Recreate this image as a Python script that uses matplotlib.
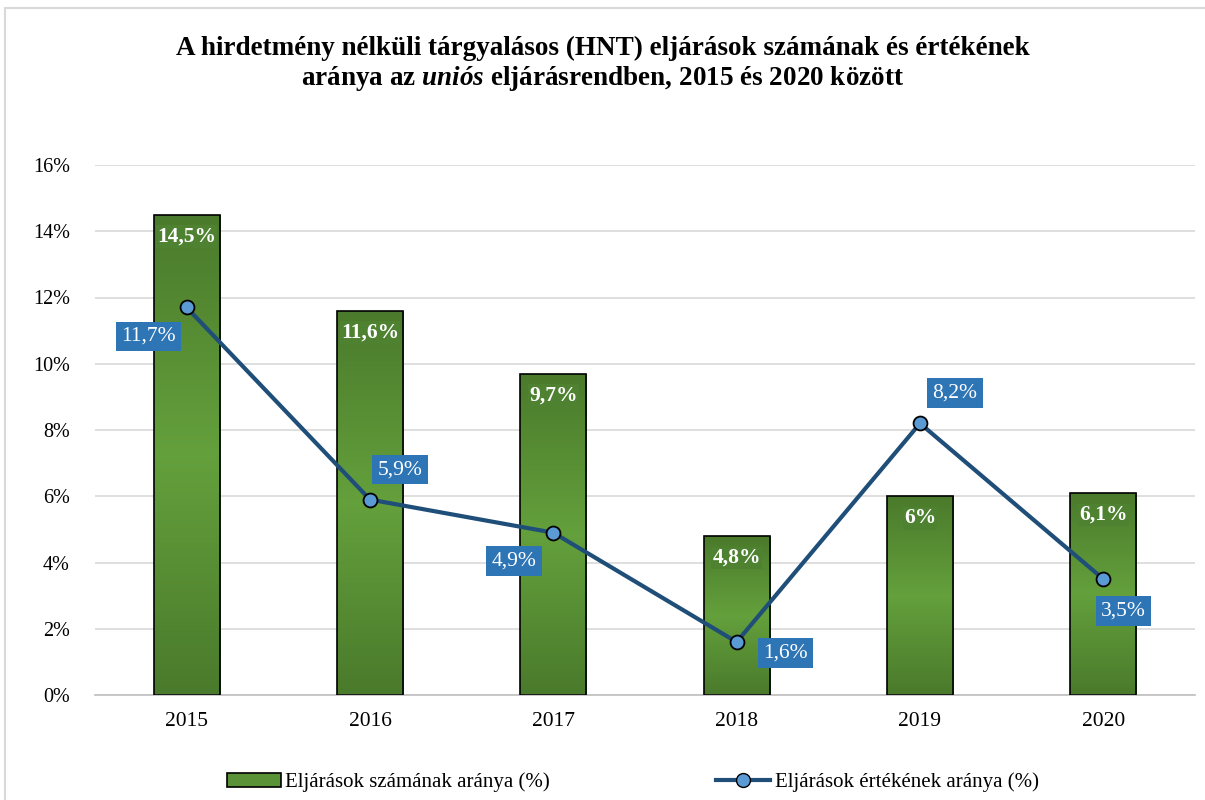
import numpy as np
import matplotlib.pyplot as plt
from matplotlib.patches import Rectangle
from matplotlib.lines import Line2D
from matplotlib.colors import LinearSegmentedColormap

plt.rcParams['font.family'] = ['Liberation Serif', 'DejaVu Serif']
plt.rcParams['mathtext.fontset'] = 'custom'
plt.rcParams['mathtext.it'] = 'Liberation Serif:italic:bold'
plt.rcParams['mathtext.rm'] = 'Liberation Serif:bold'

years = ["2015", "2016", "2017", "2018", "2019", "2020"]
count_share = [14.5, 11.6, 9.7, 4.8, 6.0, 6.1]
value_share = [11.7, 5.9, 4.9, 1.6, 8.2, 3.5]
count_labels = ["14,5%", "11,6%", "9,7%", "4,8%", "6%", "6,1%"]
value_labels = ["11,7%", "5,9%", "4,9%", "1,6%", "8,2%", "3,5%"]
# label offsets (pixels) for the line labels
value_offsets = [(-38, -29), (30, 30), (-39, -28), (49, -11), (35, 30), (20, -32)]

fig = plt.figure(figsize=(12.05, 8), dpi=100)
ax = fig.add_axes([0.0788, 0.13125, 0.9129, 0.6625])

# chart border
fig.patches.append(Rectangle((5 / 1205, -0.01), 1.0, 1 - 8 / 800 + 0.01, transform=fig.transFigure,
                             fill=False, edgecolor="#D9D9D9", linewidth=1.5))

x = np.arange(len(years))
width = 0.36
green = LinearSegmentedColormap.from_list("g", ["#4A7A2B", "#64A03C", "#4A7A2B"])
bars = ax.bar(x, count_share, width, color="none", edgecolor="black", linewidth=1.2, zorder=3)
grad = np.linspace(0, 1, 256).reshape(-1, 1)
for b in bars:
    x0, y0 = b.get_x(), b.get_y()
    im = ax.imshow(grad, cmap=green, aspect="auto", zorder=2,
                   extent=[x0, x0 + b.get_width(), y0, y0 + b.get_height()])
    im.set_clip_path(b)

for xi, v, lab in zip(x, count_share, count_labels):
    ax.annotate(lab, (xi, v), xytext=(0, -22), textcoords="offset pixels",
                ha="center", va="center", color="white", fontsize=15.5, fontweight="bold", zorder=5,
                bbox=dict(boxstyle="square,pad=0.06", fc="#4E8231", ec="none"))

ax.plot(x, value_share, color="#1F4E79", linewidth=3, marker="o", markersize=10,
        markerfacecolor="#5B9BD5", markeredgecolor="black", markeredgewidth=1.3, zorder=6)
for xi, v, lab, off in zip(x, value_share, value_labels, value_offsets):
    ax.annotate(lab, (xi, v), xytext=off, textcoords="offset pixels",
                ha="center", va="center", color="white", fontsize=15.5, zorder=7,
                bbox=dict(boxstyle="square,pad=0.25", fc="#2E75B6", ec="none"))

ax.set_xlim(-0.5, len(years) - 0.5)
ax.set_ylim(0, 16)
ax.set_yticks(np.arange(0, 17, 2))
ax.set_yticklabels([f"{t}%" for t in range(0, 17, 2)])
ax.set_xticks(x)
ax.set_xticklabels(years)
ax.tick_params(axis="y", length=0, labelsize=14.5, pad=18)
ax.tick_params(axis="x", length=0, labelsize=15.5, pad=12)
ax.grid(axis="y", color="#D9D9D9", linewidth=1.2, zorder=0)
ax.set_axisbelow(True)
for s in ["top", "right", "left"]:
    ax.spines[s].set_visible(False)
ax.spines["bottom"].set_color("#BFBFBF")
ax.spines["bottom"].set_linewidth(1.2)

fig.text(0.5, 0.94, "A hirdetmény nélküli tárgyalásos (HNT) eljárások számának és értékének",
         ha="center", va="center", fontsize=19.5, fontweight="bold")
fig.text(0.5, 0.902, r"aránya az $\mathit{uniós}$ eljárásrendben, 2015 és 2020 között",
         ha="center", va="center", fontsize=19.5, fontweight="bold")

handles = [Rectangle((0, 0), 1, 1, fc="#5A9237", ec="black", lw=1.2),
           Line2D([], [], color="#1F4E79", lw=3, marker="o", markersize=10,
                  markerfacecolor="#5B9BD5", markeredgecolor="black")]
fig.legend(handles, ["Eljárások számának aránya (%)", "Eljárások értékének aránya (%)"],
           loc="center", bbox_to_anchor=(0.525, 0.022), ncol=2, frameon=False, fontsize=15,
           columnspacing=8, handlelength=2.6, handletextpad=0.2)

fig.savefig("out.png", dpi=100)
